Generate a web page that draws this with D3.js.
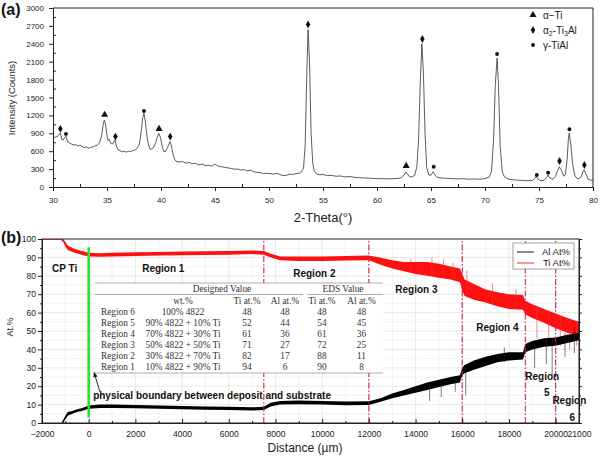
<!DOCTYPE html>
<html>
<head>
<meta charset="utf-8">
<script src="https://cdn.jsdelivr.net/npm/d3@7"></script>
<style>
  body { margin: 0; background: #fff; }
  svg { display: block; font-family: "Liberation Sans", Arial, sans-serif; }
</style>
</head>
<body>
<svg width="600" height="456"></svg>
<script>
// ---------- panel (a): XRD pattern ----------
const xrdTrace = [
  [30.0,850],[30.2,830],[30.4,845],[30.55,880],[30.68,905],[30.8,800],[30.95,790],[31.1,830],[31.2,850],
  [31.35,760],[31.5,745],[31.7,720],[31.9,705],[32.1,710],[32.3,690],[32.5,700],[32.7,680],[32.9,660],
  [33.1,670],[33.3,650],[33.5,665],[33.7,670],[33.9,690],[34.1,700],[34.3,740],[34.5,860],[34.65,1050],
  [34.75,1120],[34.85,1060],[35.0,860],[35.1,780],[35.2,800],[35.35,730],[35.5,720],[35.65,760],[35.75,790],
  [35.85,700],[36.0,630],[36.2,610],[36.4,590],[36.6,600],[36.8,585],[37.0,600],[37.2,595],[37.4,610],
  [37.6,620],[37.8,650],[38.0,720],[38.15,900],[38.3,1150],[38.42,1235],[38.55,1100],[38.7,850],[38.85,700],
  [39.0,630],[39.15,640],[39.3,660],[39.5,740],[39.65,830],[39.8,900],[39.95,830],[40.1,690],[40.25,600],
  [40.4,590],[40.55,640],[40.7,700],[40.83,760],[40.95,700],[41.1,560],[41.25,470],[41.4,430],[41.7,420],
  [42.0,425],[42.3,400],[42.6,410],[42.9,390],[43.2,395],[43.5,370],[43.8,385],[44.1,360],[44.4,365],
  [44.7,350],[45.0,385],[45.3,350],[45.6,340],[45.9,330],[46.2,320],[46.5,310],[46.8,300],[47.1,300],
  [47.4,285],[47.7,290],[48.0,270],[48.3,280],[48.6,255],[48.9,245],[49.2,240],[49.5,225],[49.8,230],
  [50.1,225],[50.4,215],[50.7,230],[51.0,210],[51.3,190],[51.6,195],[51.9,215],[52.2,210],[52.5,225],
  [52.8,230],[53.0,250],[53.2,320],[53.35,700],[53.5,1900],[53.62,2640],[53.75,2100],[53.9,900],[54.05,400],
  [54.2,260],[54.4,220],[54.7,205],[55.0,210],[55.4,190],[55.8,195],[56.2,180],[56.6,185],[57.0,170],
  [57.5,175],[58.0,160],[58.5,155],[59.0,150],[59.5,145],[60.0,140],[60.5,140],[61.0,135],[61.5,140],
  [62.0,145],[62.3,160],[62.5,200],[62.68,250],[62.85,210],[63.0,175],[63.3,170],[63.5,200],[63.7,350],
  [63.85,800],[64.0,1700],[64.15,2400],[64.3,1900],[64.45,900],[64.6,330],[64.8,200],[65.0,200],[65.2,255],
  [65.4,190],[65.6,160],[66.0,150],[66.5,145],[67.0,140],[67.5,135],[68.0,140],[68.5,130],[69.0,135],
  [69.5,130],[70.0,140],[70.4,170],[70.6,260],[70.8,800],[70.95,1700],[71.12,2160],[71.25,1700],[71.4,700],
  [71.6,250],[71.8,170],[72.2,130],[72.6,120],[73.0,115],[73.5,110],[74.0,105],[74.4,110],[74.6,140],
  [74.75,175],[74.9,130],[75.2,105],[75.5,115],[75.7,160],[75.83,200],[76.0,150],[76.3,130],[76.5,170],
  [76.7,260],[76.88,340],[77.05,290],[77.3,180],[77.45,210],[77.6,450],[77.72,800],[77.8,900],[77.95,700],
  [78.1,400],[78.3,200],[78.5,145],[78.7,140],[78.9,170],[79.05,250],[79.17,285],[79.35,220],[79.55,130],
  [79.8,115],[80.0,110]
];
const alphaTiPeaks = [[34.78,1210],[39.82,975],[62.7,355]];
const alpha2Peaks = [[30.68,975],[35.78,845],[40.85,845],[53.62,2725],[64.2,2480],[76.9,436],[79.2,369]];
const gammaPeaks = [[31.2,890],[38.42,1275],[65.25,340],[71.12,2230],[74.8,200],[75.85,240],[77.82,967]];
const xrdTicksX = d3.range(30, 81, 5);
const xrdTicksY = d3.range(0, 3001, 300);

// ---------- panel (b): EDS line scan ----------
// [distance, low, high] envelope of the noisy trace
const tiProfile = [
  [-2000,99.6,100],[-1200,99.6,100],[-1100,98.5,100],[-1000,96,98.5],[-900,94,96.5],[-600,92.5,94.5],
  [-300,91.5,93.5],[0,90.5,92.5],[500,90.3,92.3],[1000,90.5,92.5],[2000,90.8,92.8],[3000,91,93],
  [4000,91.2,93.2],[5000,91.3,93.3],[6000,91.5,93.5],[7000,91.8,93.8],[7500,91.5,93.5],[7800,90,92],
  [8200,88.5,90.5],[9000,88,90.5],[10000,88,90.5],[11000,88.3,90.8],[12000,88.5,91],[12500,86,89.8],
  [13000,84,88.5],[13500,82.5,87.5],[14000,81,87.5],[14500,80,87.5],[15000,79,86.5],[15500,78,85],
  [15900,76.5,84],[16000,72,81],[16100,69,78],[16500,67,75.5],[17000,65.5,72.5],[17500,63.5,71],
  [18000,62,70],[18600,61.5,69.5],[18700,59,66.5],[19000,57,64.5],[19500,54.5,62],[20000,51.5,59.5],
  [20500,49,57],[21000,47.5,55]
];
const alProfile = [
  [-1150,0,0.5],[-1100,0,1.5],[-1000,2,4],[-900,4,6],[-700,5,6.5],[-500,6,7.5],[-300,6.5,8],[0,7.8,9.5],
  [500,8.2,10],[1000,8.2,10],[2000,8,9.8],[3000,7.8,9.5],[4000,7.5,9.2],[5000,7.2,9],[6000,7,8.8],
  [7000,6.8,8.5],[7500,7,8.8],[7800,9,11],[8200,10,12],[9000,10.2,12.2],[10000,10,12],[11000,9.7,11.7],
  [12000,9.8,11.8],[12500,11.5,13.5],[13000,13.5,16],[13500,15,18],[14000,16.5,20],[14500,18,22],
  [15000,19.5,23.5],[15500,21,25],[15900,22,26],[16000,26,30],[16100,27,31.5],[16500,29,34],
  [17000,31,36],[17500,33,37.5],[18000,34,38.5],[18600,34.5,38.5],[18700,38.5,43],[19000,40,44.5],
  [19500,41.5,46],[20000,42,46.5],[20500,43.5,48],[21000,45,49]
];
// isolated noise spikes [distance, low, high]
const tiSpikes = [
  [13800,82,89],[14700,81,90],[15200,80,89],[15600,79,87],[16200,70,83],[17300,64,76],[18300,62,73],
  [19200,46,63],[19700,44,60],[20200,42,58],[20600,40,56],[20900,42,55]
];
const alSpikes = [
  [14600,12,22],[15100,14,24],[15700,17,25],[16150,15,30],[17800,33,41],[19100,30,44],[19600,32,46],
  [19850,26,46],[20400,36,49],[20800,38,52]
];
const regionBounds = [7500, 12000, 16000, 18700, 20000];
const boundaryDist = 0;
const eddTicksX = [-2000,0,2000,4000,6000,8000,10000,12000,14000,16000,18000,20000,21000];
const eddTicksY = d3.range(0, 101, 10);

// inset table
const tableRegion = ["Region 6","Region 5","Region 4","Region 3","Region 2","Region 1"];
const tableWt = ["100% 4822","90% 4822 + 10% Ti","70% 4822 + 30% Ti","50% 4822 + 50% Ti","30% 4822 + 70% Ti","10% 4822 + 90% Ti"];
const designTi = [48,52,61,71,82,94];
const designAl = [48,44,36,27,17,6];
const edsTi = [48,54,61,72,88,90];
const edsAl = [48,45,36,25,11,8];

// region annotations [text, distance, at%]
const annotations = [
  ["CP Ti",-1570,82],["Region 1",2290,82],["Region 2",8760,79.5],["Region 3",13130,70.7],
  ["Region 4",16600,50],["Region",18700,23.5],["5",19500,14.8],["Region",19860,10.5],["6",20590,1.3]
];

const svg = d3.select("svg");
const ink = "#222";
const fmt = d3.format("d");

// ================= panel (a) =================
const xA = d3.scaleLinear().domain([30, 80]).range([53, 593]);
const yA = d3.scaleLinear().domain([0, 3000]).range([187, 8]);

const gA = svg.append("g");

// frame
gA.append("path")
  .attr("d", `M${xA(30)},${yA(3000)}H${xA(80)}V${yA(0)}`)
  .attr("fill", "none").attr("stroke", ink).attr("stroke-width", 1);

// trace
gA.append("path")
  .datum(xrdTrace)
  .attr("d", d3.line().x(d => xA(d[0])).y(d => yA(d[1])))
  .attr("fill", "none").attr("stroke", "#333").attr("stroke-width", 0.8);

// peak markers
const markerSets = [
  [alphaTiPeaks, d3.symbolTriangle, 22],
  [alpha2Peaks, d3.symbolDiamond, 18],
  [gammaPeaks, d3.symbolCircle, 12]
];
markerSets.forEach(([pts, type, size]) => {
  gA.selectAll(null).data(pts).join("path")
    .attr("transform", d => `translate(${xA(d[0])},${yA(d[1])})`)
    .attr("d", d3.symbol().type(type).size(size))
    .attr("fill", "#111");
});

// axes
const styleAxis = (g, fs) => {
  g.selectAll("text").attr("fill", ink).style("font-size", fs + "px").style("font-family", "Liberation Sans, Arial, sans-serif");
  g.selectAll("line,path").attr("stroke", ink);
};
gA.append("g").attr("transform", `translate(0,${yA(0)})`)
  .call(d3.axisBottom(xA).tickValues(xrdTicksX).tickSize(4).tickPadding(6).tickFormat(fmt))
  .call(g => styleAxis(g, 8));
gA.append("g").attr("transform", `translate(0,${yA(0)})`)
  .call(d3.axisBottom(xA).tickValues(d3.range(32.5, 80, 5)).tickSize(-3).tickFormat(""))
  .call(g => g.select(".domain").remove()).call(g => styleAxis(g, 8));
gA.append("g").attr("transform", `translate(${xA(30)},0)`)
  .call(d3.axisLeft(yA).tickValues(xrdTicksY).tickSize(4).tickPadding(5).tickFormat(fmt))
  .call(g => styleAxis(g, 8));
gA.append("g").attr("transform", `translate(${xA(30)},0)`)
  .call(d3.axisLeft(yA).tickValues(d3.range(150, 3000, 300)).tickSize(-3).tickFormat(""))
  .call(g => g.select(".domain").remove()).call(g => styleAxis(g, 8));

gA.append("text").attr("x", 323).attr("y", 222).attr("text-anchor", "middle")
  .attr("font-size", 13).attr("fill", ink).text("2-Theta(°)");
gA.append("text").attr("transform", "translate(15,98) rotate(-90)").attr("text-anchor", "middle")
  .attr("font-size", 9.5).attr("fill", ink).text("Intensity (Counts)");
svg.append("text").attr("x", 1).attr("y", 15).attr("font-size", 16).attr("font-weight", "bold")
  .attr("fill", "#111").text("(a)");

// legend (a)
const legA = gA.append("g").attr("transform", "translate(533,15)");
const legAItems = [
  [d3.symbolTriangle, 22, "α−Ti"],
  [d3.symbolDiamond, 18, "α2-Ti3Al"],
  [d3.symbolCircle, 12, "γ-TiAl"]
];
legAItems.forEach(([type, size, label], i) => {
  legA.append("path").attr("transform", `translate(0,${i * 15})`)
    .attr("d", d3.symbol().type(type).size(size)).attr("fill", "#111");
  const t = legA.append("text").attr("x", 10).attr("y", i * 15 + 3.5).attr("font-size", 10).attr("fill", ink);
  if (label === "α2-Ti3Al") {
    t.append("tspan").text("α");
    t.append("tspan").attr("font-size", 7).attr("dy", 2.5).text("2");
    t.append("tspan").attr("dy", -2.5).text("-Ti");
    t.append("tspan").attr("font-size", 7).attr("dy", 2.5).text("3");
    t.append("tspan").attr("dy", -2.5).text("Al");
  } else {
    t.text(label);
  }
});

// ================= panel (b) =================
const xB = d3.scaleLinear().domain([-2000, 21000]).range([42, 579]);
const yB = d3.scaleLinear().domain([0, 100]).range([423, 239]);
const gB = svg.append("g");

gB.append("clipPath").attr("id", "clipB").append("rect")
  .attr("x", xB(-2000)).attr("y", yB(100)).attr("width", xB(21000) - xB(-2000)).attr("height", yB(0) - yB(100));

// grid
const grid = gB.append("g");
grid.selectAll(null).data(d3.range(-1000, 21000, 1000)).join("line")
  .attr("x1", d => xB(d)).attr("x2", d => xB(d)).attr("y1", yB(0)).attr("y2", yB(100))
  .attr("stroke", d => d % 2000 === 0 ? "#e2e2e2" : "#efefef").attr("stroke-width", 0.8);
grid.selectAll(null).data(d3.range(5, 100, 5)).join("line")
  .attr("x1", xB(-2000)).attr("x2", xB(21000)).attr("y1", d => yB(d)).attr("y2", d => yB(d))
  .attr("stroke", d => d % 10 === 0 ? "#e2e2e2" : "#efefef").attr("stroke-width", 0.8);

const plot = gB.append("g").attr("clip-path", "url(#clipB)");
const band = d3.area().x(d => xB(d[0])).y0(d => yB(d[1])).y1(d => yB(d[2]));

plot.append("path").datum(tiProfile).attr("d", band).attr("fill", "#ff1010");
plot.selectAll(null).data(tiSpikes).join("line")
  .attr("x1", d => xB(d[0])).attr("x2", d => xB(d[0])).attr("y1", d => yB(d[1])).attr("y2", d => yB(d[2]))
  .attr("stroke", "#ff3030").attr("stroke-width", 0.6);

plot.append("path").datum(alProfile).attr("d", band).attr("fill", "#000");
plot.selectAll(null).data(alSpikes).join("line")
  .attr("x1", d => xB(d[0])).attr("x2", d => xB(d[0])).attr("y1", d => yB(d[1])).attr("y2", d => yB(d[2]))
  .attr("stroke", "#222").attr("stroke-width", 0.6);

// region boundaries
plot.selectAll(null).data(regionBounds).join("line")
  .attr("x1", d => xB(d)).attr("x2", d => xB(d)).attr("y1", yB(0)).attr("y2", yB(100))
  .attr("stroke", "#d0204f").attr("stroke-width", 1.1).attr("stroke-dasharray", "6,2,1.5,2");

// physical boundary
plot.append("line")
  .attr("x1", xB(boundaryDist)).attr("x2", xB(boundaryDist)).attr("y1", yB(95.5)).attr("y2", yB(3))
  .attr("stroke", "#2ee02e").attr("stroke-width", 2.6);

// inset table
const tbl = gB.append("g");
const tLeft = 95, tRight = 383, tTop = 283;
const rowY = [312, 323, 334, 345, 356, 367];
tbl.append("rect").attr("x", tLeft).attr("y", tTop).attr("width", tRight - tLeft).attr("height", 90).attr("fill", "#fff");
const rule = (x1, x2, y) => tbl.append("line").attr("x1", x1).attr("x2", x2).attr("y1", y).attr("y2", y)
  .attr("stroke", "#999").attr("stroke-width", 0.8);
rule(tLeft, tRight, tTop);
rule(tLeft, 303, 294.5);
rule(307, tRight, 294.5);
rule(tLeft, tRight, 373);
const serif = "Liberation Serif, Times New Roman, serif";
const cell = (x, y, s, anchor = "middle") => tbl.append("text").attr("x", x).attr("y", y)
  .attr("text-anchor", anchor).attr("font-family", serif).attr("font-size", 9.3).attr("fill", "#333").text(s);
cell(222, 292, "Designed Value");
cell(343, 292, "EDS Value");
cell(183, 304, "wt.%");
cell(247, 304, "Ti at.%");
cell(285, 304, "Al at.%");
cell(322, 304, "Ti at.%");
cell(361.5, 304, "Al at.%");
tableRegion.forEach((r, i) => {
  const y = rowY[i] + 3;
  cell(101, y, r, "start");
  cell(183, y, tableWt[i]);
  cell(247, y, designTi[i]);
  cell(285, y, designAl[i]);
  cell(322, y, edsTi[i]);
  cell(361.5, y, edsAl[i]);
});

// annotations
gB.selectAll(null).data(annotations).join("text")
  .attr("x", d => xB(d[1])).attr("y", d => yB(d[2]))
  .attr("font-size", 10).attr("font-weight", "bold").attr("fill", "#111").text(d => d[0]);

gB.append("defs").append("marker").attr("id", "arr").attr("viewBox", "0 0 10 10")
  .attr("refX", 9).attr("refY", 5).attr("markerWidth", 6).attr("markerHeight", 6).attr("orient", "auto")
  .append("path").attr("d", "M0,1L10,5L0,9z").attr("fill", "#111");
gB.append("line")
  .attr("x1", xB(480)).attr("y1", yB(17)).attr("x2", xB(230)).attr("y2", yB(27.5))
  .attr("stroke", "#111").attr("stroke-width", 0.9).attr("marker-end", "url(#arr)");
gB.append("text").attr("x", xB(190)).attr("y", yB(12.8))
  .attr("font-size", 10).attr("font-weight", "bold").attr("fill", "#111")
  .text("physical boundary between deposit and substrate");

// axes (b)
gB.append("rect").attr("x", xB(-2000)).attr("y", yB(100)).attr("width", xB(21000) - xB(-2000))
  .attr("height", yB(0) - yB(100)).attr("fill", "none").attr("stroke", ink).attr("stroke-width", 1);
gB.append("g").attr("transform", `translate(0,${yB(0)})`)
  .call(d3.axisBottom(xB).tickValues(eddTicksX).tickSize(-4).tickPadding(8).tickFormat(fmt))
  .call(g => styleAxis(g, 8.6));
gB.append("g").attr("transform", `translate(0,${yB(0)})`)
  .call(d3.axisBottom(xB).tickValues(d3.range(-1000, 21000, 2000)).tickSize(-2).tickFormat(""))
  .call(g => g.select(".domain").remove()).call(g => styleAxis(g, 8));
gB.append("g").attr("transform", `translate(${xB(-2000)},0)`)
  .call(d3.axisLeft(yB).tickValues(eddTicksY).tickSize(4).tickPadding(2).tickFormat(fmt))
  .call(g => styleAxis(g, 8.6));
gB.append("g").attr("transform", `translate(${xB(-2000)},0)`)
  .call(d3.axisLeft(yB).tickValues(d3.range(5, 100, 10)).tickSize(2).tickFormat(""))
  .call(g => g.select(".domain").remove()).call(g => styleAxis(g, 8));
gB.append("g").attr("transform", `translate(${xB(21000)},0)`)
  .call(d3.axisRight(yB).tickValues(eddTicksY).tickSize(3).tickFormat(""))
  .call(g => styleAxis(g, 8));
gB.append("g").attr("transform", `translate(${xB(21000)},0)`)
  .call(d3.axisRight(yB).tickValues(d3.range(5, 100, 10)).tickSize(2).tickFormat(""))
  .call(g => g.select(".domain").remove()).call(g => styleAxis(g, 8));

gB.append("text").attr("x", 305).attr("y", 452).attr("text-anchor", "middle")
  .attr("font-size", 12).attr("fill", ink).text("Distance (µm)");
gB.append("text").attr("transform", "translate(13,327) rotate(-90)").attr("text-anchor", "middle")
  .attr("font-size", 9).attr("fill", ink).text("At.%");
svg.append("text").attr("x", 1).attr("y", 243).attr("font-size", 16).attr("font-weight", "bold")
  .attr("fill", "#111").text("(b)");

// legend (b)
const legB = gB.append("g");
legB.append("rect").attr("x", 513).attr("y", 243).attr("width", 61).attr("height", 26)
  .attr("fill", "#fff").attr("stroke", "#888").attr("stroke-width", 0.8);
[["Al At%", "#000", 252], ["Ti At%", "#ff1010", 263]].forEach(([label, c, y]) => {
  legB.append("line").attr("x1", 517).attr("x2", 534).attr("y1", y).attr("y2", y).attr("stroke", c).attr("stroke-width", 0.9);
  legB.append("text").attr("x", 570).attr("y", y + 3.3).attr("text-anchor", "end")
    .attr("font-size", 9.5).attr("fill", ink).text(label);
});
</script>
</body>
</html>
